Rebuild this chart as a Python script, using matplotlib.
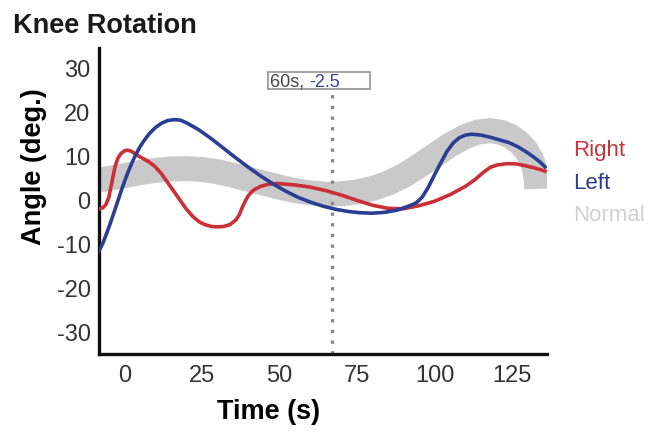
import matplotlib
matplotlib.use("Agg")
import matplotlib.pyplot as plt

plt.rcParams['font.family'] = ['Liberation Sans', 'DejaVu Sans']
plt.rcParams['axes.unicode_minus'] = False

# series (time in s, angle in deg.)
right_t = [-8, -7, -6, -5, -4, -3, -2, -1, 0, 1, 2, 3, 4, 6, 8, 10, 12, 14, 16,
           18, 20, 22, 24, 26, 28, 30, 32, 34, 36, 37, 38, 39, 40, 41, 42, 44,
           46, 48, 50, 55, 60, 65, 70, 75, 80, 85, 90, 95, 100, 105, 110, 113,
           116, 118, 120, 123, 126, 129, 132, 134, 135.6]
right_a = [-2.1, -1.9, -1.2, 0.5, 4.0, 7.5, 9.5, 10.5, 11.0, 11.2, 11.0, 10.6,
           10.1, 9.3, 8.5, 7.4, 5.8, 3.8, 1.8, -0.2, -2.2, -3.8, -5.0, -5.7,
           -6.1, -6.2, -6.1, -5.7, -4.6, -3.5, -1.8, -0.3, 0.9, 1.7, 2.3, 3.0,
           3.4, 3.6, 3.6, 3.3, 2.8, 2.0, 1.0, -0.2, -1.3, -2.0, -2.1, -1.4,
           -0.4, 1.1, 3.0, 4.5, 6.3, 7.3, 7.8, 8.1, 8.1, 7.7, 7.2, 6.8, 6.4]

left_t = [-8.2, -7, -6, -5, -4, -3, -2, -1, 0, 1, 2, 3, 4, 5, 6, 8, 10, 12, 14,
          16, 18, 20, 24, 28, 32, 36, 40, 44, 48, 52, 56, 60, 64, 68, 72, 76,
          80, 84, 88, 92, 94, 96, 98, 100, 102, 104, 106, 108, 110, 112, 115,
          118, 121, 124, 127, 130, 132, 134, 135.6]
left_a = [-11.7, -10.0, -8.2, -6.3, -4.3, -2.2, -0.1, 2.0, 4.0, 5.9, 7.6, 9.2,
          10.6, 11.9, 13.0, 14.9, 16.3, 17.3, 17.9, 18.1, 18.0, 17.4, 15.8,
          13.8, 11.6, 9.4, 7.3, 5.3, 3.5, 1.9, 0.5, -0.6, -1.5, -2.2, -2.7,
          -3.0, -3.1, -2.9, -2.4, -1.4, -0.8, 0.5, 2.8, 5.6, 8.3, 10.9, 12.8,
          14.0, 14.6, 14.8, 14.6, 14.1, 13.5, 12.9, 11.9, 10.6, 9.6, 8.5, 7.4]

normal_t = [-8, -4, 0, 5, 10, 15, 20, 25, 30, 35, 40, 45, 50, 55, 60, 65, 70,
            75, 80, 85, 90, 95, 100, 105, 110, 114, 118, 121.5, 124.5, 127.3,
            129.6, 131.3, 132.3, 132.8, 132.9]
normal_a = [4.4, 4.9, 5.4, 6.1, 6.6, 6.9, 7.0, 6.8, 6.3, 5.5, 4.6, 3.7, 2.8,
            2.0, 1.5, 1.2, 1.3, 1.7, 2.5, 3.7, 5.4, 7.6, 10.0, 12.4, 14.3,
            15.3, 15.6, 15.2, 14.3, 12.9, 11.1, 9.0, 6.8, 4.5, 2.4]

cursor_t = 67
cursor_label = ["60s, ", "-2.5"]

x_ticks = [0, 25, 50, 75, 100, 125]
y_ticks = [-30, -20, -10, 0, 10, 20, 30]

legend_names = ["Right", "Left", "Normal"]
legend_colors = ["#c8343a", "#2b3e8e", "#d0d0d0"]


def main():
    fig = plt.figure(figsize=(6.64, 4.35), dpi=100)
    ax = fig.add_axes([0.149, 0.184, 0.675, 0.703])

    ax.plot(normal_t, normal_a, color="#c9c9c9", lw=18,
            solid_capstyle="butt", solid_joinstyle="round", zorder=1)
    ax.plot(right_t, right_a, color="#cc2f35", lw=2.6, zorder=3,
            solid_joinstyle="round")
    ax.plot(left_t, left_a, color="#2a3f93", lw=2.6, zorder=4,
            solid_joinstyle="round")

    # cursor
    ax.plot([cursor_t, cursor_t], [-35, 25.0], color="#8a8a8a", lw=2.4,
            ls=(0, (1, 2.2)), zorder=2, clip_on=False)
    t1 = ax.text(47.0, 26.8, cursor_label[0], fontsize=13, color="#444444",
                 va="center", ha="left", zorder=6)
    fig.canvas.draw()
    ax.annotate(cursor_label[1], xycoords=t1, xy=(1, 0), va="bottom",
                fontsize=13, color="#34449a", zorder=6)
    box = plt.Rectangle((46.3, 25.0), 32.9, 3.8, fill=True, fc="white",
                        ec="#9a9a9a", lw=1.3, zorder=5, clip_on=False)
    ax.add_patch(box)

    ax.set_xlim(-8.2, 136.3)
    ax.set_ylim(-35, 34.3)
    ax.set_xticks(x_ticks)
    ax.set_yticks(y_ticks)
    ax.tick_params(length=0, labelsize=17, labelcolor="#333333")
    ax.tick_params(axis="y", pad=6)
    ax.tick_params(axis="x", pad=7)
    for s in ["top", "right"]:
        ax.spines[s].set_visible(False)
    for s in ["left", "bottom"]:
        ax.spines[s].set_linewidth(2.4)
        ax.spines[s].set_color("#111111")

    ax.set_xlabel("Time (s)", fontsize=19.5, fontweight="bold", va="center")
    ax.xaxis.set_label_coords(0.379, -0.186)
    ax.set_ylabel("Angle (deg.)", fontsize=19.5, fontweight="bold",
                  va="center")
    ax.yaxis.set_label_coords(-0.145, 0.615)
    fig.text(0.019, 0.924, "Knee Rotation", fontsize=19.5, fontweight="bold",
             color="#1a1a1a", va="baseline")

    for i, (name, col) in enumerate(zip(legend_names, legend_colors)):
        fig.text(0.863, 0.641 - i * 0.075, name, fontsize=16, color=col,
                 va="baseline")

    fig.savefig("out.png", dpi=100)


if __name__ == "__main__":
    main()
